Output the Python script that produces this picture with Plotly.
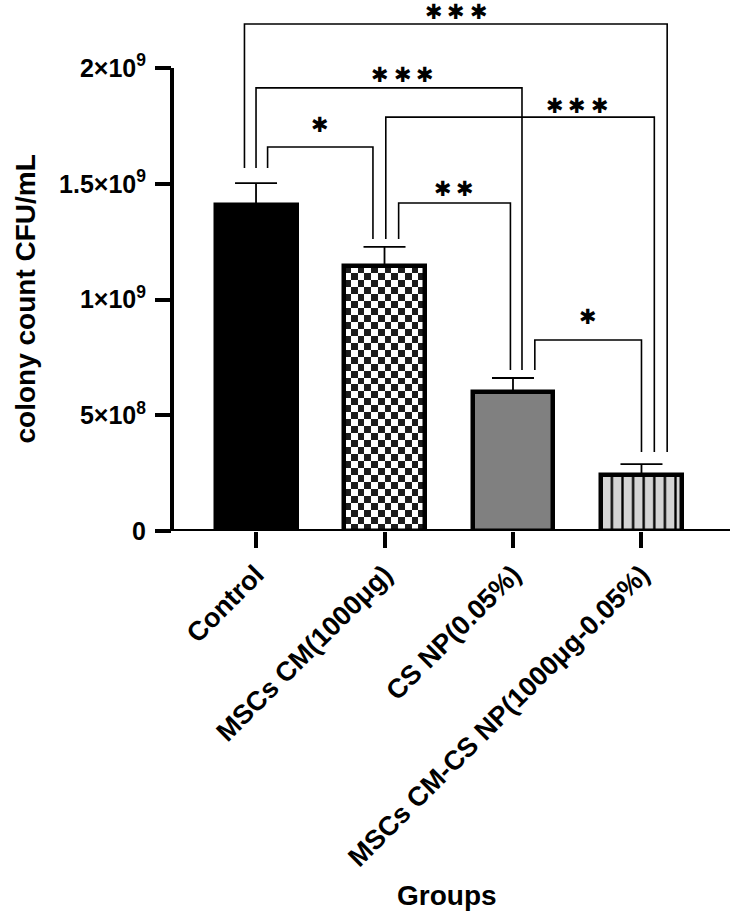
import numpy as np
import plotly.graph_objects as go

# ---------------- data ----------------
categories = ["Control", "MSCs CM(1000μg)", "CS NP(0.05%)", "MSCs CM-CS NP(1000μg-0.05%)"]
means = [1.41e9, 1.145e9, 0.600e9, 0.242e9]
errors = [0.093e9, 0.082e9, 0.061e9, 0.047e9]
ytick_vals = [0, 5e8, 1e9, 1.5e9, 2e9]
ytick_text = ["0", "5×10<sup>8</sup>", "1×10<sup>9</sup>", "1.5×10<sup>9</sup>", "2×10<sup>9</sup>"]

# significance comparisons: (group a, group b, number of stars)
comparisons = [(0, 3, 3), (0, 2, 3), (1, 3, 3), (0, 1, 1), (1, 2, 2), (2, 3, 1)]

# ---------------- layout helpers (positions / styles) ----------------
W, H = 735, 917
left_px, right_px, bottom_px = 172, 730, 531
px_per_unit_y = 231.5 / 1e9
x_range = [-0.654, 3.689]
y_top = bottom_px / px_per_unit_y
bar_width = 0.63
font = "Liberation Sans, Arial, Helvetica, sans-serif"

bracket_offsets = [(-0.09, 0.20), (0.0, 0.07), (0.01, 0.10), (0.09, -0.09), (0.11, -0.02), (0.17, 0.0)]
bracket_levels = [2.190e9, 1.914e9, 1.788e9, 1.659e9, 1.417e9, 0.825e9]
label_x = [1.56, 1.14, 2.50, 0.50, 1.54, 2.58]
label_y = [2.242e9, 1.970e9, 1.836e9, 1.754e9, 1.477e9, 0.924e9]
gap_px = [15, 8, 8, 12]
star_step_px = 22.5

fig = go.Figure()

# checkerboard fill for group 1
cell_px = 7.0
chk = 1
rows = int(round(means[chk] * px_per_unit_y / cell_px))
bar_px = bar_width * (right_px - left_px) / (x_range[1] - x_range[0])
cols = int(round(bar_px / cell_px))
z = (np.add.outer(np.arange(rows), np.arange(cols)) % 2).astype(float)
fig.add_trace(go.Heatmap(
    z=z,
    x=np.linspace(chk - bar_width / 2, chk + bar_width / 2, cols + 1),
    y=np.linspace(0, means[chk], rows + 1),
    colorscale=[[0, "white"], [1, "#1c1c1c"]],
    showscale=False, hoverinfo="skip", zsmooth=False,
))

fills = ["black", "rgba(0,0,0,0)", "#808080", "#d4d4d4"]
patterns = [dict(shape=""), dict(shape=""), dict(shape=""),
            dict(shape="|", bgcolor="#d4d4d4", fgcolor="black", size=10.6, solidity=0.22, fillmode="replace")]
for i in range(4):
    fig.add_trace(go.Bar(
        x=[i], y=[means[i]], width=bar_width,
        marker=dict(color=fills[i], line=dict(color="black", width=4.5), pattern=patterns[i]),
        error_y=dict(type="data", symmetric=False, array=[errors[i]], arrayminus=[0],
                     color="black", thickness=1.8, width=21),
        showlegend=False, hoverinfo="skip",
    ))

# brackets
bx, by = [], []
for k, (a, b, n) in enumerate(comparisons):
    oa, ob = bracket_offsets[k]
    ya = means[a] + errors[a] + gap_px[a] / px_per_unit_y
    yb = means[b] + errors[b] + gap_px[b] / px_per_unit_y
    lvl = bracket_levels[k]
    bx += [a + oa, a + oa, b + ob, b + ob, None]
    by += [ya, lvl, lvl, yb, None]
fig.add_trace(go.Scatter(x=bx, y=by, mode="lines", line=dict(color="black", width=1.6),
                         showlegend=False, hoverinfo="skip"))

for k, (a, b, n) in enumerate(comparisons):
    for s in range(n):
        fig.add_annotation(x=label_x[k], y=label_y[k], xref="x", yref="y", text="✱",
                           showarrow=False, xanchor="center", yanchor="middle",
                           xshift=(s - (n - 1) / 2) * star_step_px,
                           font=dict(family="DejaVu Sans", size=21, color="black"))

# axis lines
fig.add_shape(type="line", xref="paper", yref="y", x0=0, x1=0, y0=-2 / px_per_unit_y, y1=2e9,
              line=dict(color="black", width=4), layer="above")
fig.add_shape(type="line", xref="paper", yref="y", x0=0, x1=1, y0=0, y1=0,
              line=dict(color="black", width=4), layer="above")

# titles
pw = right_px - left_px
fig.add_annotation(x=(25 - left_px) / pw, y=1.0e9, xref="paper", yref="y",
                   text="colony count CFU/mL", textangle=-90, showarrow=False,
                   xanchor="center", yanchor="middle",
                   font=dict(family=font, size=28, color="black", weight="bold"))
fig.add_annotation(x=(447 - left_px) / pw, y=(bottom_px - 895) / bottom_px,
                   xref="paper", yref="paper", text="Groups", showarrow=False,
                   xanchor="center", yanchor="middle",
                   font=dict(family=font, size=28, color="black", weight="bold"))

fig.update_layout(
    width=W, height=H,
    margin=dict(l=left_px, r=W - right_px, t=0, b=H - bottom_px),
    paper_bgcolor="white", plot_bgcolor="white",
    showlegend=False, bargap=0,
    xaxis=dict(range=x_range, tickvals=list(range(4)), ticktext=categories, tickangle=-45,
               ticks="outside", ticklen=16, tickwidth=4, tickcolor="black",
               showline=False, showgrid=False, zeroline=False,
               tickfont=dict(family=font, size=27, color="black", weight="bold")),
    yaxis=dict(range=[0, y_top], tickvals=ytick_vals, ticktext=ytick_text,
               ticks="outside", ticklen=16, tickwidth=4, tickcolor="black",
               showline=False, showgrid=False, zeroline=False, ticklabelstandoff=4,
               tickfont=dict(family=font, size=25, color="black", weight="bold")),
)

fig.write_html("out.html", config={"displayModeBar": False},
               post_script="document.body.style.margin='0';document.body.style.overflow='hidden';")
